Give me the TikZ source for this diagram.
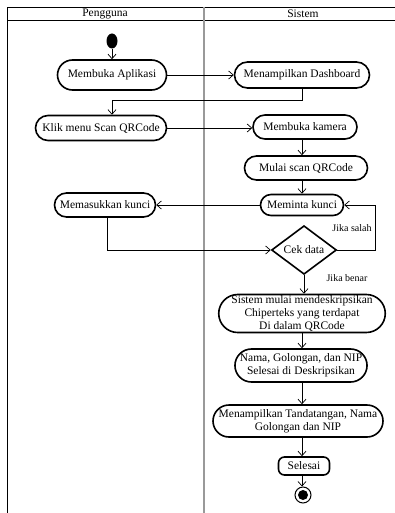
\documentclass[tikz,border=0pt]{standalone}
\usepackage{fontspec}
\setmainfont{Liberation Serif}
\usetikzlibrary{shapes.misc,shapes.geometric,arrows.meta}
\tikzset{
  act/.style={draw, line width=1.6pt, rounded rectangle, inner sep=0pt,
    font=\fontsize{11.5}{13}\selectfont, align=center},
  flow/.style={line width=0.7pt, -{Straight Barb[length=4.5pt,width=8pt,line width=0.7pt]}},
  lbl/.style={font=\fontsize{10}{11}\selectfont, inner sep=0pt},
  lane/.style={line width=0.9pt},
}
\begin{document}
\begin{tikzpicture}[x=1pt,y=-1pt]
\useasboundingbox (0,0) rectangle (395,513);
% swimlane frame
\draw[lane] (395,7) -- (7.5,7) -- (7.5,513);
\draw[lane] (7.5,20) -- (395,20);
\draw[line width=1.5pt, gray!80] (204,7) -- (204,513);
\node[font=\fontsize{11.5}{13}\selectfont] (h1) at (105,13.5) {Pengguna};
\node[font=\fontsize{11.5}{13}\selectfont] (h2) at (303,13.5) {Sistem};
% nodes
\node[ellipse, fill=black, minimum width=11pt, minimum height=15pt, inner sep=0pt] (start) at (112,41) {};
\node[act, minimum width=109pt, minimum height=30pt] (a1) at (112,75) {Membuka Aplikasi};
\node[act, minimum width=135pt, minimum height=26pt] (s1) at (302,75) {Menampilkan Dashboard};
\node[act, minimum width=131pt, minimum height=25pt] (a2) at (101,128) {Klik menu Scan QRCode};
\node[act, minimum width=104pt, minimum height=24pt] (s2) at (305,127) {Membuka kamera};
\node[act, minimum width=123pt, minimum height=24pt] (s3) at (306,168) {Mulai scan QRCode};
\node[act, minimum width=83pt, minimum height=21pt] (s4) at (302,205) {Meminta kunci};
\node[act, minimum width=101pt, minimum height=24pt] (a3) at (105,205) {Memasukkan kunci};
\node[diamond, draw, line width=1.6pt, minimum width=65pt, minimum height=46pt, inner sep=0pt,
  font=\fontsize{11.5}{13}\selectfont] (d) at (304,250) {Cek data};
\node[act, minimum width=158pt, minimum height=38pt] (s5) at (302,313.5)
  {Sistem mulai mendeskripsikan\\Chiperteks yang terdapat\\Di dalam QRCode};
\node[act, minimum width=131pt, minimum height=33pt] (s6) at (301,365.5)
  {Nama, Golongan, dan NIP\\Selesai di Deskripsikan};
\node[act, minimum width=170pt, minimum height=32pt] (s7) at (298,421)
  {Menampilkan Tandatangan, Nama\\Golongan dan NIP};
\node[draw, line width=1.6pt, rounded corners=6pt, minimum width=51pt, minimum height=18pt, inner sep=0pt,
  font=\fontsize{11.5}{13}\selectfont] (s8) at (304,466) {Selesai};
\node[circle, draw, line width=1pt, minimum size=16pt, inner sep=0pt] (end) at (303,495) {};
\node[circle, fill=black, minimum size=10pt, inner sep=0pt] (endin) at (303,495) {};
% helper coordinates
\coordinate (col) at (302,0);
\coordinate (j1) at (112,100);
\coordinate (j2) at (107,250);
\coordinate (j3) at (375,250);
\coordinate (j4) at (375,205);
% connectors
\draw[flow] (start) -- (a1);
\draw[flow] (a1.east) -- (s1.west);
\draw[flow] (s1.south -| col) |- (j1) -- (j1 |- a2.north);
\draw[flow] (a2.east) -- (s2.west |- a2.east);
\draw[flow] (s2.south -| col) -- (s3.north -| col);
\draw[flow] (s3.south -| col) -- (s4.north -| col);
\draw[flow] (s4.west) -- (a3.east);
\draw[flow] (a3.south -| j2) -- (j2) -- (d.west);
\draw[flow] (d.east) -- (j3) -- (j4) -- (s4.east);
\draw[flow] (d.south) -- (s5.north -| d.south);
\draw[flow] (s5.south -| col) -- (s6.north -| col);
\draw[flow] (s6.south -| col) -- (s7.north -| col);
\draw[flow] (s7.south -| col) -- (s8.north -| col);
\draw[flow] (s8.south -| col) -- (end.north -| col);
% labels
\node[lbl] (l1) at (352,228) {Jika salah};
\node[lbl] (l2) at (347,278) {Jika benar};
\end{tikzpicture}
\end{document}
